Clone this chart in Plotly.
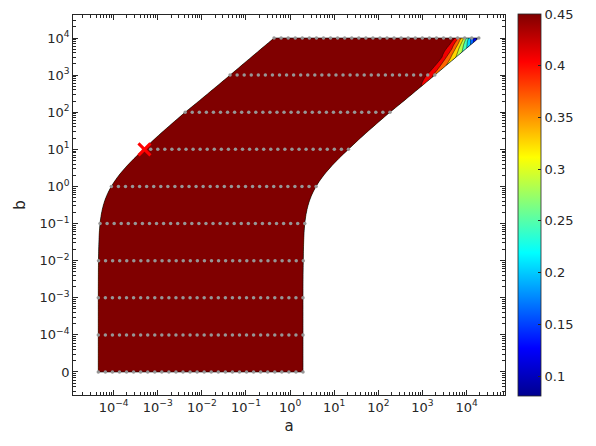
import numpy as np
import plotly.graph_objects as go

# ---------------- data ----------------
b_values = [0, 1e-4, 1e-3, 1e-2, 1e-1, 1, 10, 100, 1000, 10000]
b_zero_plot = 1e-5          # where b = 0 is drawn on the log axis
b_tick_labels = ["0", "10<sup>\u22124</sup>", "10<sup>\u22123</sup>", "10<sup>\u22122</sup>",
                 "10<sup>\u22121</sup>", "10<sup>0</sup>", "10<sup>1</sup>",
                 "10<sup>2</sup>", "10<sup>3</sup>", "10<sup>4</sup>"]
a_first = [4.5e-5, 4.5e-5, 4.5e-5, 4.55e-5, 4.93e-5, 8.9e-5, 4.8e-4, 4.19e-3, 4.36e-2, 4.33e-1]
a_last = [1.96, 1.96, 1.96, 1.99, 2.15, 3.88, 21.0, 183.0, 1903.0, 18900.0]
n_points = 30
z_plateau = 0.45
z_tail_row8 = [0.406, 0.365]                  # last points of b = 1e3 row
z_tail_row9 = [0.389, 0.29, 0.176, 0.0807]    # last points of b = 1e4 row
z_min, z_max = 0.0807, 0.45
level_start, level_end, level_step = 0.1176, 0.4131, 0.03692
a_tick_exps = [-4, -3, -2, -1, 0, 1, 2, 3, 4]
cbar_ticks = [0.1, 0.15, 0.2, 0.25, 0.3, 0.35, 0.4, 0.45]
best_a, best_b = 5.0e-4, 10

# ---------------- grid ----------------
b_plot = np.array([b if b > 0 else b_zero_plot for b in b_values])
A = np.array([np.logspace(np.log10(f), np.log10(l), n_points) for f, l in zip(a_first, a_last)])
Z = np.full(A.shape, z_plateau)
Z[8, -len(z_tail_row8):] = z_tail_row8
Z[9, -len(z_tail_row9):] = z_tail_row9

# rendering rows (linear interpolation in data space, like the original contour)
nsub = 16
rows_a, rows_b, rows_z, bparam = [], [], [], []
for i in range(len(b_plot) - 1):
    r = b_plot[i + 1] / b_plot[i]
    for s in np.linspace(0, 1, nsub, endpoint=False):
        t = (r ** s - 1) / (r - 1)
        rows_a.append((1 - t) * A[i] + t * A[i + 1])
        rows_b.append(np.full(n_points, (1 - t) * b_plot[i] + t * b_plot[i + 1]))
        rows_z.append((1 - t) * Z[i] + t * Z[i + 1])
        bparam.append(i + s)
rows_a.append(A[-1]); rows_b.append(np.full(n_points, b_plot[-1])); rows_z.append(Z[-1])
bparam.append(len(b_plot) - 1)
X_sub = np.log10(np.array(rows_a))
Y_sub = np.log10(np.array(rows_b))
Z_sub = np.array(rows_z)
aparam = list(range(n_points))

jet = [[0, 'rgb(0,0,143)'], [0.125, 'rgb(0,0,255)'], [0.375, 'rgb(0,255,255)'],
       [0.625, 'rgb(255,255,0)'], [0.875, 'rgb(255,0,0)'], [1, 'rgb(128,0,0)']]

ax_style = dict(showgrid=False, showline=False, showticklabels='none',
                tickmode='array', tickvals=[],
                startline=True, endline=True, startlinecolor='black', endlinecolor='black',
                startlinewidth=0.6, endlinewidth=0.6, smoothing=0, minorgridcount=0)

fig = go.Figure()
fig.add_trace(go.Contourcarpet(
    a=aparam, b=bparam, z=Z_sub.tolist(), carpet='grid',
    autocontour=False,
    contours=dict(start=level_start, end=level_end, size=level_step,
                  coloring='fill', showlines=True),
    line=dict(color='black', width=0.5, smoothing=0),
    colorscale=jet, showscale=False))
fig.add_trace(go.Carpet(carpet='grid', a=aparam, b=bparam,
                        x=X_sub.tolist(), y=Y_sub.tolist(),
                        aaxis=ax_style, baxis=ax_style))

# grid points
px = np.log10(A).ravel()
py = np.repeat(np.log10(b_plot), n_points)
fig.add_trace(go.Scatter(x=px, y=py, mode='markers',
                         marker=dict(size=3.5, color='rgb(150,150,150)'),
                         hoverinfo='skip'))
# best point
fig.add_trace(go.Scatter(x=[np.log10(best_a)], y=[np.log10(best_b)], mode='markers',
                         marker=dict(symbol='x-thin', size=12, line=dict(color='red', width=3))))
# colorbar carrier
fig.add_trace(go.Scatter(x=[px[0], px[0]], y=[py[0], py[0]], mode='markers',
                         marker=dict(size=1, opacity=0, color=[z_min, z_max],
                                     cmin=z_min, cmax=z_max + 1e-4, colorscale=jet, showscale=True,
                                     colorbar=dict(x=1.030, xanchor='left', xpad=0, ypad=0,
                                                   y=0.5, yanchor='middle',
                                                   len=382, lenmode='pixels',
                                                   thickness=23, thicknessmode='pixels',
                                                   tickvals=cbar_ticks, ticks='inside', ticklen=3,
                                                   tickcolor='#262626',
                                                   ticklabeloverflow='allow',
                                                   outlinewidth=0.8, outlinecolor='#262626',
                                                   tickfont=dict(size=13, color='#262626'))),
                         hoverinfo='skip'))

xminor = [n + np.log10(k) for n in range(-5, 5) for k in range(2, 10)]
xminor = [v for v in xminor if -4.92 < v < 4.87]
yminor = [n + np.log10(k) for n in range(-6, 5) for k in range(2, 10)]
yminor = [v for v in yminor if -5.62 < v < 4.62]

axis_common = dict(showgrid=False, zeroline=False, showline=True, linecolor='#262626',
                   linewidth=0.8, mirror='ticks', ticks='inside', ticklen=5,
                   tickcolor='#262626', tickfont=dict(size=13, color='#262626'),
                   automargin=False)

fig.update_layout(
    width=588, height=438, margin=dict(l=65, r=91, t=7, b=51, autoexpand=False),
    plot_bgcolor='white', paper_bgcolor='white', showlegend=False,
    font=dict(family='DejaVu Sans', size=13, color='#262626'),
    xaxis=dict(range=[-4.92, 4.87], tickvals=a_tick_exps,
               ticktext=[f"10<sup>{e}</sup>".replace('-', '\u2212') for e in a_tick_exps],
               title=dict(text='a', font=dict(size=15), standoff=6),
               minor=dict(tickvals=xminor, ticks='inside', ticklen=3, tickcolor='#262626'),
               **axis_common),
    yaxis=dict(range=[-5.62, 4.62], tickvals=list(np.log10(b_plot)),
               ticktext=b_tick_labels,
               title=dict(text='b', font=dict(size=15), standoff=10),
               minor=dict(tickvals=yminor, ticks='inside', ticklen=3, tickcolor='#262626'),
               **axis_common),
)

fig.write_html("out.html")
